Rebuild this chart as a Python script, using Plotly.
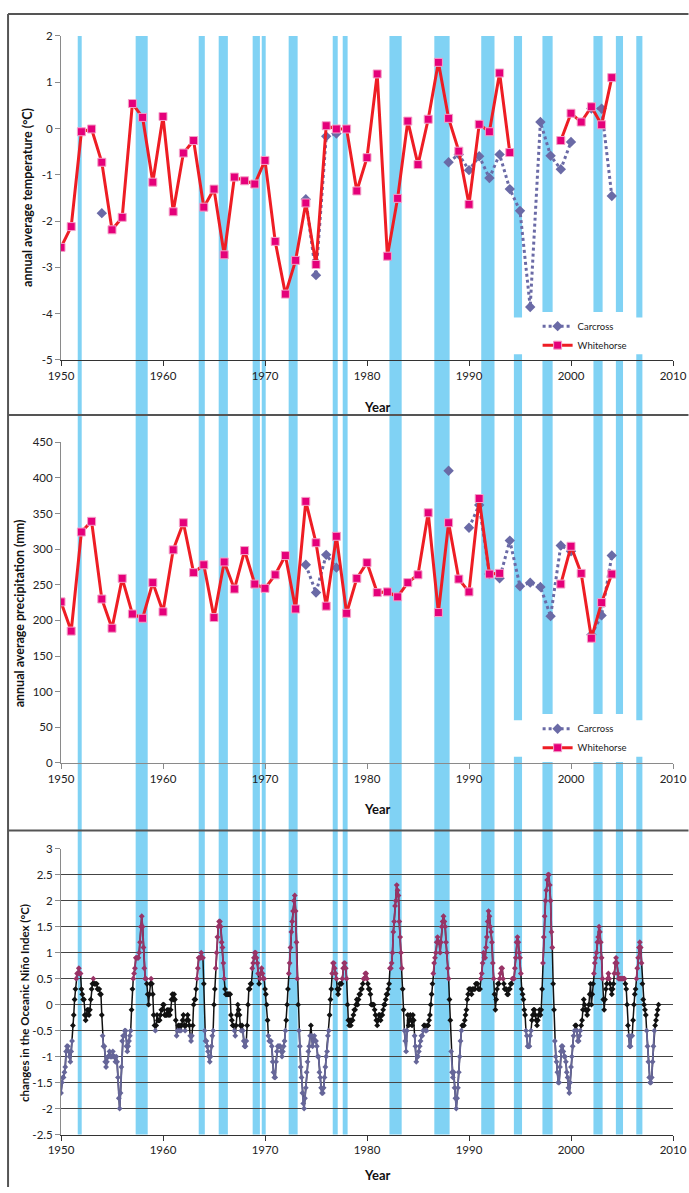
import plotly.graph_objects as go

# ---------------- data ----------------
years_t = list(range(1950, 2005))
whitehorse_temp = [-2.57, -2.12, -0.07, -0.01, -0.73, -2.19, -1.92, 0.54, 0.24, -1.16,
                   0.26, -1.80, -0.53, -0.26, -1.70, -1.31, -2.73, -1.05, -1.13, -1.20,
                   -0.69, -2.44, -3.58, -2.85, -1.61, -2.94, 0.06, -0.01, -0.01, -1.35,
                   -0.63, 1.18, -2.76, -1.51, 0.16, -0.78, 0.20, 1.43, 0.22, -0.49,
                   -1.64, 0.09, -0.07, 1.20, -0.52, None, None, None, None, -0.26,
                   0.33, 0.14, 0.47, 0.08, 1.10]
carcross_temp = [None, None, None, None, -1.83, None, None, None, None, None,
                 None, None, None, None, None, None, None, None, None, None,
                 None, None, None, None, -1.53, -3.17, -0.17, -0.11, None, None,
                 None, None, None, None, None, None, None, None, -0.73, -0.56,
                 -0.90, -0.60, -1.07, -0.56, -1.31, -1.78, -3.86, 0.14, -0.59, -0.88,
                 -0.29, None, 0.43, 0.43, -1.46]

whitehorse_prec = [226, 185, 324, 339, 230, 189, 259, 209, 203, 253,
                   212, 299, 337, 267, 278, 204, 282, 244, 298, 251,
                   245, 264, 291, 216, 367, 309, 220, 318, 210, 259,
                   281, 239, 240, 233, 253, 264, 351, 211, 337, 258,
                   240, 371, 265, 266, None, None, None, None, None, 251,
                   304, 266, 175, 225, 265]
carcross_prec = [None, None, None, None, None, None, None, None, None, None,
                 None, None, None, None, None, None, None, None, None, None,
                 None, None, None, None, 278, 239, 292, 274, None, None,
                 None, None, None, None, None, None, None, None, 410, None,
                 330, 362, 265, 259, 312, 248, 253, 247, 206, 305,
                 297, None, 180, 207, 291]

oni_first_year = 1950
oni_by_year = [
    [-1.7, -1.5, -1.4, -1.4, -1.3, -1.2, -0.9, -0.8, -0.8, -0.9, -1.0, -1.1],  # 1950
    [-0.9, -0.7, -0.4, -0.2, 0.1, 0.3, 0.5, 0.6, 0.6, 0.7, 0.6, 0.6],
    [0.3, 0.2, 0.1, 0.1, -0.2, -0.3, -0.2, -0.1, -0.1, -0.2, -0.1, 0.1],
    [0.3, 0.4, 0.5, 0.4, 0.4, 0.4, 0.4, 0.3, 0.3, 0.3, 0.2, 0.2],
    [-0.2, -0.6, -0.8, -0.8, -1.1, -1.2, -1.1, -1.0, -1.0, -0.9, -1.0, -1.0],
    [-1.0, -0.9, -1.0, -1.0, -1.1, -1.0, -1.1, -1.4, -1.8, -2.0, -1.7, -1.2],  # 1955
    [-0.7, -0.6, -0.6, -0.5, -0.5, -0.8, -0.9, -0.8, -0.7, -0.6, -0.5, -0.1],
    [0.3, 0.5, 0.6, 0.7, 0.9, 0.9, 0.9, 0.9, 1.0, 1.2, 1.5, 1.7],
    [1.5, 1.1, 0.7, 0.5, 0.5, 0.4, 0.2, 0.0, 0.2, 0.4, 0.5, 0.4],
    [0.2, -0.2, -0.4, -0.5, -0.4, -0.2, -0.3, -0.3, -0.3, -0.2, -0.1, -0.1],
    [0.0, 0.0, -0.2, -0.2, -0.2, -0.1, -0.2, -0.1, -0.2, -0.1, 0.1, 0.2],  # 1960
    [0.1, 0.2, 0.1, -0.3, -0.6, -0.5, -0.4, -0.5, -0.4, -0.5, -0.4, -0.3],
    [-0.2, -0.4, -0.5, -0.4, -0.3, -0.2, -0.3, -0.4, -0.6, -0.7, -0.6, -0.4],
    [0.0, 0.1, 0.1, 0.3, 0.5, 0.7, 0.9, 0.9, 0.9, 1.0, 0.9, 0.9],
    [0.4, -0.5, -0.7, -0.7, -0.8, -0.9, -1.0, -1.1, -1.0, -0.8, -0.6, -0.5],
    [0.0, 0.3, 0.7, 1.0, 1.3, 1.5, 1.6, 1.6, 1.5, 1.2, 1.1, 0.8],  # 1965
    [0.5, 0.3, 0.2, 0.2, 0.2, 0.2, 0.2, 0.2, -0.2, -0.3, -0.4, -0.4],
    [-0.5, -0.6, -0.4, -0.2, 0.0, -0.1, -0.2, -0.4, -0.5, -0.4, -0.5, -0.7],
    [-0.8, -0.8, -0.7, -0.4, 0.0, 0.3, 0.3, 0.4, 0.4, 0.7, 0.8, 0.9],
    [1.0, 1.0, 0.9, 0.8, 0.6, 0.4, 0.5, 0.6, 0.7, 0.6, 0.5, 0.5],
    [0.3, 0.2, 0.0, -0.3, -0.6, -0.7, -0.7, -0.7, -0.8, -1.1, -1.3, -1.4],  # 1970
    [-1.4, -1.1, -0.9, -0.8, -0.8, -0.8, -0.8, -0.9, -1.0, -0.9, -0.8, -0.7],
    [-0.5, -0.3, 0.0, 0.3, 0.6, 0.8, 1.1, 1.4, 1.6, 1.8, 2.0, 2.1],
    [1.8, 1.2, 0.5, 0.0, -0.5, -0.8, -1.2, -1.4, -1.7, -1.9, -2.0, -1.8],
    [-1.6, -1.3, -1.1, -0.9, -0.8, -0.6, -0.4, -0.6, -0.8, -0.7, -0.6, -0.7],
    [-0.7, -0.8, -1.0, -1.0, -1.3, -1.4, -1.6, -1.7, -1.7, -1.6, -1.4, -1.2],  # 1975
    [-1.0, -0.9, -0.6, -0.5, -0.2, 0.1, 0.3, 0.6, 0.8, 0.8, 0.7, 0.6],
    [0.5, 0.3, 0.2, 0.3, 0.4, 0.4, 0.4, 0.5, 0.7, 0.8, 0.8, 0.7],
    [0.5, 0.0, -0.3, -0.4, -0.3, -0.4, -0.3, -0.3, -0.2, -0.1, -0.1, 0.0],
    [0.1, 0.0, 0.1, 0.2, 0.2, 0.3, 0.3, 0.4, 0.5, 0.5, 0.6, 0.6],
    [0.5, 0.4, 0.3, 0.3, 0.2, 0.0, 0.0, 0.0, 0.0, -0.1, -0.2, -0.3],  # 1980
    [-0.4, -0.3, -0.2, -0.2, -0.3, -0.2, -0.2, -0.1, 0.0, 0.0, 0.1, 0.2],
    [0.2, 0.3, 0.4, 0.7, 0.7, 0.8, 1.0, 1.4, 1.6, 1.9, 2.0, 2.3],
    [2.2, 2.1, 1.6, 1.3, 1.0, 0.7, 0.3, -0.1, -0.5, -0.7, -0.9, -0.5],
    [-0.2, -0.4, -0.3, -0.2, -0.3, -0.4, -0.2, -0.3, -0.6, -0.8, -1.1, -1.0],
    [-1.0, -0.9, -0.8, -0.7, -0.6, -0.6, -0.5, -0.4, -0.4, -0.5, -0.5, -0.4],  # 1985
    [-0.4, -0.3, -0.2, 0.0, 0.2, 0.4, 0.6, 0.8, 0.9, 1.0, 1.2, 1.3],
    [1.2, 1.2, 1.0, 1.2, 1.5, 1.6, 1.7, 1.6, 1.5, 1.2, 1.0, 0.7],
    [0.5, 0.1, -0.3, -0.9, -1.3, -1.4, -1.3, -1.6, -1.8, -2.0, -1.8, -1.6],
    [-1.3, -1.0, -0.7, -0.5, -0.4, -0.4, -0.4, -0.3, -0.2, -0.1, 0.1, 0.2],
    [0.3, 0.3, 0.3, 0.2, 0.3, 0.3, 0.3, 0.3, 0.4, 0.4, 0.4, 0.3],  # 1990
    [0.3, 0.3, 0.5, 0.6, 0.8, 1.0, 0.9, 0.9, 1.1, 1.3, 1.6, 1.8],
    [1.7, 1.5, 1.4, 1.2, 0.8, 0.5, 0.2, -0.1, 0.1, 0.3, 0.4, 0.4],
    [0.5, 0.6, 0.7, 0.7, 0.5, 0.4, 0.3, 0.3, 0.3, 0.2, 0.2, 0.3],
    [0.3, 0.4, 0.4, 0.5, 0.5, 0.5, 0.7, 0.9, 1.2, 1.3, 1.2, 1.0],
    [0.9, 0.6, 0.3, 0.2, 0.1, -0.1, -0.2, -0.5, -0.6, -0.8, -0.8, -0.8],  # 1995
    [-0.6, -0.5, -0.3, -0.2, -0.1, -0.1, -0.2, -0.3, -0.4, -0.3, -0.2, -0.1],
    [-0.2, -0.1, 0.3, 0.8, 1.3, 1.7, 2.0, 2.2, 2.4, 2.5, 2.5, 2.3],
    [2.0, 1.4, 1.1, 0.4, -0.1, -0.7, -1.0, -1.1, -1.3, -1.5, -1.5, -1.2],
    [-0.9, -0.8, -0.8, -0.9, -1.0, -1.0, -1.1, -1.3, -1.4, -1.6, -1.7, -1.5],
    [-1.2, -1.0, -0.8, -0.6, -0.5, -0.4, -0.4, -0.5, -0.7, -0.7, -0.6, -0.5],  # 2000
    [-0.4, -0.3, -0.1, 0.1, 0.0, -0.1, -0.1, -0.2, -0.1, 0.0, 0.2, 0.4],
    [0.0, 0.2, 0.4, 0.6, 0.8, 0.9, 1.0, 1.2, 1.3, 1.5, 1.4, 1.2],
    [0.9, 0.5, 0.1, -0.1, 0.1, 0.3, 0.4, 0.5, 0.6, 0.5, 0.4, 0.3],
    [0.2, 0.3, 0.4, 0.6, 0.8, 0.9, 0.8, 0.6, 0.5, 0.5, 0.5, 0.5],
    [0.5, 0.5, 0.5, 0.5, 0.4, 0.3, 0.0, -0.4, -0.6, -0.8, -0.8, -0.6],  # 2005
    [-0.6, -0.3, 0.0, 0.2, 0.3, 0.5, 0.7, 0.9, 1.1, 1.2, 1.1, 0.8],
    [0.4, 0.1, 0.0, -0.1, -0.2, -0.5, -0.8, -1.1, -1.4, -1.5, -1.5, -1.4],
    [-1.1, -0.8, -0.5, -0.4, -0.3, -0.2, -0.1, 0.0],
]

# El Nino shading periods (start, end) in decimal years
band_starts = [1951.64, 1957.32, 1963.5, 1965.46, 1968.79, 1969.68, 1972.32, 1976.64, 1977.62,
               1982.2, 1986.6, 1991.2, 1994.4, 1997.2, 2002.2, 2004.4, 2006.4]
band_ends = [1952.03, 1958.5, 1964.1, 1966.36, 1969.5, 1970.07, 1973.2, 1977.13, 1978.1,
             1983.4, 1988.1, 1992.5, 1995.2, 1998.2, 2003.1, 2005.1, 2007.0]

# ---------------- geometry helpers ----------------
W, H = 689, 1193
L, R = 61, 15.5
PW = W - L - R


def px(x):
    return (x - L) / PW


def py(y):
    return 1 - y / H


FONT = "Lato, 'Open Sans', sans-serif"
RED = "#EE1D24"
PINK = "#E5007A"
SLATE = "#6A6AA6"
BAND = "#80D2F4"
ONI_RED = "#993366"
ONI_BLUE = "#666699"

fig = go.Figure()

# ---- panel 1: temperature ----
fig.add_trace(go.Scatter(x=years_t, y=carcross_temp, name="Carcross", mode="lines+markers",
                         line=dict(color=SLATE, width=3, dash="dot"),
                         marker=dict(symbol="diamond", size=8, color=SLATE),
                         xaxis="x", yaxis="y", legend="legend"))
fig.add_trace(go.Scatter(x=years_t, y=whitehorse_temp, name="Whitehorse", mode="lines+markers",
                         line=dict(color=RED, width=3),
                         marker=dict(symbol="square", size=8, color=PINK,
                                     line=dict(color="#F4A0C8", width=1)),
                         xaxis="x", yaxis="y", legend="legend"))

# ---- panel 2: precipitation ----
fig.add_trace(go.Scatter(x=years_t, y=carcross_prec, name="Carcross", mode="lines+markers",
                         line=dict(color=SLATE, width=3, dash="dot"),
                         marker=dict(symbol="diamond", size=8, color=SLATE),
                         xaxis="x2", yaxis="y2", legend="legend2"))
fig.add_trace(go.Scatter(x=years_t, y=whitehorse_prec, name="Whitehorse", mode="lines+markers",
                         line=dict(color=RED, width=3),
                         marker=dict(symbol="square", size=8, color=PINK,
                                     line=dict(color="#F4A0C8", width=1)),
                         xaxis="x2", yaxis="y2", legend="legend2"))

# ---- panel 3: ONI ----
oni_x, oni_y = [], []
for yi, vals in enumerate(oni_by_year):
    for m, v in enumerate(vals):
        oni_x.append(oni_first_year + yi + m / 12.0)
        oni_y.append(v)


def runs(cond):
    xs, ys = [], []
    prev = False
    for xx, yy in zip(oni_x, oni_y):
        if cond(yy):
            xs.append(xx)
            ys.append(yy)
            prev = True
        elif prev:
            xs.append(None)
            ys.append(None)
            prev = False
    return xs, ys


fig.add_trace(go.Scatter(x=oni_x, y=oni_y, mode="lines", line=dict(color="#111111", width=1.5),
                         xaxis="x3", yaxis="y3", showlegend=False, hoverinfo="skip"))
nx, ny = zip(*[(a, b) for a, b in zip(oni_x, oni_y) if -0.5 < b < 0.5])
fig.add_trace(go.Scatter(x=list(nx), y=list(ny), mode="markers",
                         marker=dict(symbol="diamond", size=4.5, color="#111111"),
                         xaxis="x3", yaxis="y3", showlegend=False))
for cond, col in [(lambda v: v >= 0.5, ONI_RED), (lambda v: v <= -0.5, ONI_BLUE)]:
    rx, ry = runs(cond)
    fig.add_trace(go.Scatter(x=rx, y=ry, mode="lines+markers",
                             line=dict(color=col, width=1.8),
                             marker=dict(symbol="diamond", size=4.5, color=col),
                             xaxis="x3", yaxis="y3", showlegend=False, connectgaps=False))

# ---------------- shapes ----------------
shapes = []
for s, e in zip(band_starts, band_ends):
    shapes.append(dict(type="rect", xref="x", yref="paper", x0=s, x1=e,
                       y0=py(1140), y1=py(29.3), fillcolor=BAND, line=dict(width=0),
                       layer="below"))
# white legend boxes interrupting the bands
for top, bot in [(314, 351), (721, 758)]:
    shapes.append(dict(type="rect", xref="paper", yref="paper", x0=px(508), x1=px(652),
                       y0=py(bot), y1=py(top), fillcolor="white", line=dict(width=0),
                       layer="below"))
# frame and separators
BORDER = "#555555"
shapes.append(dict(type="line", xref="paper", yref="paper", x0=px(8), x1=px(689),
                   y0=py(7), y1=py(7), line=dict(color=BORDER, width=2)))
shapes.append(dict(type="line", xref="paper", yref="paper", x0=px(8), x1=px(8),
                   y0=py(7), y1=py(1193), line=dict(color=BORDER, width=2)))
for yy in (412.5, 832.5):
    shapes.append(dict(type="line", xref="paper", yref="paper", x0=px(8), x1=px(689),
                       y0=py(yy), y1=py(yy), line=dict(color=BORDER, width=2)))

# ---------------- annotations ----------------
ann = []
title_font = dict(family=FONT, size=12.5, color="#111111")


def label(text, x, y, font, angle=0):
    return dict(text=text, x=px(x), y=py(y), xref="paper", yref="paper", textangle=angle,
                showarrow=False, font=font, xanchor="center", yanchor="middle")


ann.append(label("<b>annual average temperature (°C)</b>", 28, 193, title_font, -90))
ann.append(label("<b>annual average precipitation (mm)</b>", 19, 613, title_font, -90))
ann.append(label("<b>changes in the Oceanic Niño Index (°C)</b>", 24, 1007,
                 dict(family=FONT, size=11.5, color="#111111"), -90))
for yy in (404, 811, 1181):
    ann.append(label("<b>Year</b>", 377, yy, dict(family=FONT, size=13, color="#111111")))


def ticks(vals):
    return [("-" + f"{abs(v):g}") if v < 0 else f"{v:g}" for v in vals]


tick_font = dict(family=FONT, size=11.5, color="#222222")
xcommon = dict(range=[1950, 2010], tickvals=list(range(1950, 2011, 10)),
               ticks="outside", ticklen=5, showline=True, showgrid=False, zeroline=False,
               tickfont=tick_font, domain=[0, 1])

t_vals = list(range(-5, 3))
p_vals = list(range(0, 451, 50))
o_vals = [-2.5 + 0.5 * i for i in range(12)]

fig.update_layout(
    width=W, height=H,
    margin=dict(l=L, r=R, t=0, b=0),
    paper_bgcolor="white", plot_bgcolor="rgba(0,0,0,0)",
    font=dict(family=FONT),
    xaxis=dict(anchor="y", linecolor="#333333", tickcolor="#333333", **xcommon),
    xaxis2=dict(anchor="y2", linecolor="#8a8a8a", tickcolor="#8a8a8a", **xcommon),
    xaxis3=dict(anchor="y3", linecolor="#333333", tickcolor="#333333", **xcommon),
    yaxis=dict(domain=[py(356.7), py(29.3)], range=[-5, 2], tickvals=t_vals, ticktext=ticks(t_vals),
               ticks="outside", ticklen=5, showline=True, linecolor="#8a8a8a", tickcolor="#8a8a8a",
               showgrid=False, zeroline=False, tickfont=tick_font, anchor="x"),
    yaxis2=dict(domain=[py(764.3), py(440)], range=[0, 450], tickvals=p_vals, ticktext=ticks(p_vals),
                ticks="outside", ticklen=5, showline=True, linecolor="#8a8a8a", tickcolor="#8a8a8a",
                showgrid=False, zeroline=False, tickfont=tick_font, anchor="x2"),
    yaxis3=dict(domain=[py(1140), py(851)], range=[-2.5, 3], tickvals=o_vals, ticktext=ticks(o_vals),
                ticks="outside", ticklen=5, showline=True, linecolor="#8a8a8a", tickcolor="#8a8a8a",
                showgrid=True, gridcolor="#444444", gridwidth=1, zeroline=False,
                tickfont=tick_font, anchor="x3"),
    legend=dict(x=px(538), y=py(308), xanchor="left", yanchor="top", bgcolor="white",
                font=dict(family=FONT, size=9.5, color="#222222"), itemwidth=30,
                tracegroupgap=0),
    legend2=dict(x=px(538), y=py(715), xanchor="left", yanchor="top", bgcolor="white",
                 font=dict(family=FONT, size=9.5, color="#222222"), itemwidth=30,
                 tracegroupgap=0),
    shapes=shapes,
    annotations=ann,
    showlegend=True,
)

fig.write_html("out.html")
